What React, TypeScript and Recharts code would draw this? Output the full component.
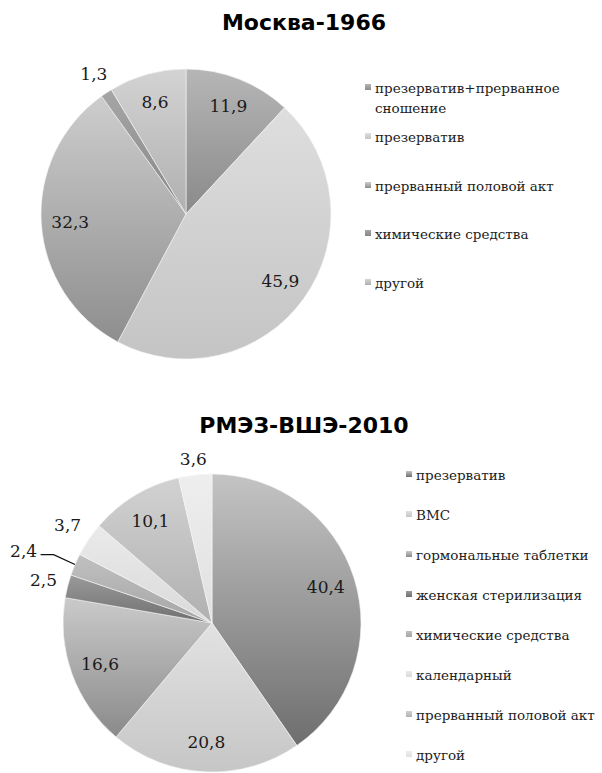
import React from 'react';
import { PieChart, Pie, Cell, Legend } from 'recharts';

// ---------- Data: Москва-1966 ----------
const moscowCategories = [
  'презерватив+прерванное сношение',
  'презерватив',
  'прерванный половой акт',
  'химические средства',
  'другой',
];
const moscowValues = [11.9, 45.9, 32.3, 1.3, 8.6];
const moscowTop = ['#b6b6b6', '#dedede', '#cdcdcd', '#a6a6a6', '#d3d3d3'];
const moscowBottom = ['#8a8a8a', '#c4c4c4', '#8e8e8e', '#868686', '#b0b0b0'];

// ---------- Data: РМЭЗ-ВШЭ-2010 ----------
const rlmsCategories = [
  'презерватив',
  'ВМС',
  'гормональные таблетки',
  'женская стерилизация',
  'химические средства',
  'календарный',
  'прерванный половой акт',
  'другой',
];
const rlmsValues = [40.4, 20.8, 16.6, 2.5, 2.4, 3.7, 10.1, 3.6];
const rlmsTop = ['#c4c4c4', '#e2e2e2', '#cacaca', '#9a9a9a', '#c0c0c0', '#eaeaea', '#d2d2d2', '#eeeeee'];
const rlmsBottom = ['#6e6e6e', '#c6c6c6', '#8a8a8a', '#707070', '#a6a6a6', '#dadada', '#b0b0b0', '#e0e0e0'];

const moscowData = moscowCategories.map((name, i) => ({ name, value: moscowValues[i] }));
const rlmsData = rlmsCategories.map((name, i) => ({ name, value: rlmsValues[i] }));

const SERIF = '"DejaVu Serif", "Liberation Serif", serif';
const SANS = '"DejaVu Sans", "Noto Sans", sans-serif';
const RAD = Math.PI / 180;

const makeLabel = (values: number[]) => (p: any) => {
  const total = values.reduce((a, b) => a + b, 0);
  const { cx, cy, midAngle, outerRadius, index } = p;
  const v = values[index];
  const small = v / total < 0.05;
  const c = Math.cos(-midAngle * RAD);
  const s = Math.sin(-midAngle * RAD);
  const halfW = 19;
  const halfH = 10;
  let d: number;
  let pushed = false;
  if (!small) {
    d = outerRadius * 0.8;
  } else {
    let k = 0;
    let j = index - 1;
    while (j >= 0 && values[j] / total < 0.05) {
      k++;
      j--;
    }
    pushed = k % 2 === 1;
    d = outerRadius + 4 + Math.abs(c) * halfW + Math.abs(s) * halfH;
  }
  let x = cx + d * c;
  let y = cy + d * s;
  const text = v.toFixed(1).replace('.', ',');
  let leader = null;
  if (pushed) {
    const dir = c < 0 ? -1 : 1;
    x += dir * 28;
    y -= 4;
    const ex = cx + outerRadius * c;
    const ey = cy + outerRadius * s;
    const endX = x - dir * (halfW - 2);
    const elbowX = endX - dir * 13;
    const ly = y + 4;
    leader = (
      <path
        d={`M${ex},${ey} L${elbowX},${ly} L${endX},${ly}`}
        stroke="#111"
        strokeWidth={1.3}
        fill="none"
      />
    );
  }
  return (
    <g key={`lbl-${index}`}>
      {leader}
      <text
        x={x}
        y={y}
        textAnchor="middle"
        dominantBaseline="central"
        fontFamily={SERIF}
        fontSize={17}
        fill="#1a1a1a"
      >
        {text}
      </text>
    </g>
  );
};

const makeLegend =
  (cats: string[], tops: string[], bottoms: string[], step: number, textWidth: number, nowrap: boolean) =>
  (props: any) => {
    const payload = (props.payload || [])
      .slice()
      .sort((a: any, b: any) => cats.indexOf(a.value) - cats.indexOf(b.value));
    return (
      <div style={{ position: 'relative', width: '100%', height: '100%' }}>
        {payload.map((entry: any) => {
          const i = cats.indexOf(entry.value);
          return (
            <div
              key={i}
              style={{
                position: 'absolute',
                left: 0,
                top: i * step,
                display: 'flex',
                alignItems: 'flex-start',
                fontFamily: SERIF,
                fontSize: 13.5,
                lineHeight: '20px',
                color: '#222',
              }}
            >
              <span
                style={{
                  width: 6,
                  height: 6,
                  marginTop: 6,
                  marginRight: 4,
                  flex: 'none',
                  background: `linear-gradient(${tops[i]}, ${bottoms[i]})`,
                }}
              />
              <span style={{ width: textWidth, whiteSpace: nowrap ? 'nowrap' : 'normal' }}>{entry.value}</span>
            </div>
          );
        })}
      </div>
    );
  };

const Gradients = ({ prefix, tops, bottoms }: { prefix: string; tops: string[]; bottoms: string[] }) => (
  <defs>
    {tops.map((t, i) => (
      <linearGradient key={i} id={`${prefix}-${i}`} x1="0" y1="0" x2="0" y2="1">
        <stop offset="0%" stopColor={t} />
        <stop offset="100%" stopColor={bottoms[i]} />
      </linearGradient>
    ))}
  </defs>
);

export default function App() {
  return (
    <div style={{ position: 'absolute', left: 0, top: 0, width: 602, height: 773, background: '#fff' }}>
      <div
        style={{
          position: 'absolute',
          left: 0,
          top: 10,
          width: 608,
          textAlign: 'center',
          fontFamily: SANS,
          fontWeight: 'bold',
          fontSize: 22,
          lineHeight: '26px',
          color: '#000',
        }}
      >
        Москва-1966
      </div>
      <div style={{ position: 'absolute', left: 0, top: 0 }}>
        <PieChart width={602} height={400} margin={{ top: 0, right: 0, bottom: 0, left: 0 }}>
          <Gradients prefix="mg" tops={moscowTop} bottoms={moscowBottom} />
          <Pie
            data={moscowData}
            dataKey="value"
            nameKey="name"
            cx={186}
            cy={214}
            outerRadius={145}
            startAngle={90}
            endAngle={-270}
            stroke="#f6f6f6"
            strokeWidth={0.6}
            label={makeLabel(moscowValues)}
            labelLine={false}
            isAnimationActive={false}
          >
            {moscowData.map((_, i) => (
              <Cell key={i} fill={`url(#mg-${i})`} />
            ))}
          </Pie>
          <Legend
            layout="vertical"
            align="right"
            verticalAlign="middle"
            content={makeLegend(moscowCategories, moscowTop, moscowBottom, 48.75, 215, false)}
            wrapperStyle={{ left: 365, top: 78, width: 237, height: 230 }}
          />
        </PieChart>
      </div>

      <div
        style={{
          position: 'absolute',
          left: 0,
          top: 413,
          width: 608,
          textAlign: 'center',
          fontFamily: SANS,
          fontWeight: 'bold',
          fontSize: 22,
          lineHeight: '26px',
          color: '#000',
        }}
      >
        РМЭЗ-ВШЭ-2010
      </div>
      <div style={{ position: 'absolute', left: 0, top: 400 }}>
        <PieChart width={602} height={373} margin={{ top: 0, right: 0, bottom: 0, left: 0 }}>
          <Gradients prefix="rg" tops={rlmsTop} bottoms={rlmsBottom} />
          <Pie
            data={rlmsData}
            dataKey="value"
            nameKey="name"
            cx={212}
            cy={223}
            outerRadius={149}
            startAngle={90}
            endAngle={-270}
            stroke="#f6f6f6"
            strokeWidth={0.6}
            label={makeLabel(rlmsValues)}
            labelLine={false}
            isAnimationActive={false}
          >
            {rlmsData.map((_, i) => (
              <Cell key={i} fill={`url(#rg-${i})`} />
            ))}
          </Pie>
          <Legend
            layout="vertical"
            align="right"
            verticalAlign="middle"
            content={makeLegend(rlmsCategories, rlmsTop, rlmsBottom, 40, 185, true)}
            wrapperStyle={{ left: 406, top: 65, width: 196, height: 300 }}
          />
        </PieChart>
      </div>
    </div>
  );
}
